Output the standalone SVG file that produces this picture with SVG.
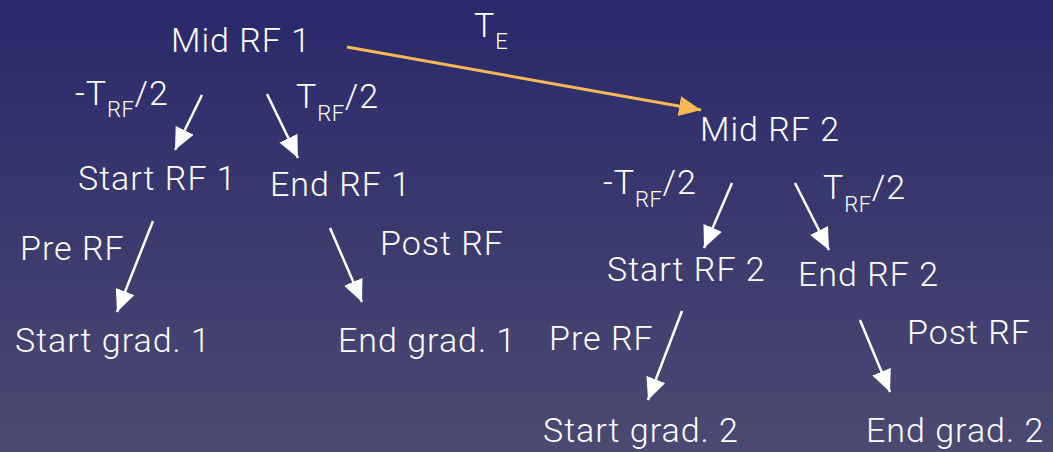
<svg xmlns="http://www.w3.org/2000/svg" width="1053" height="452" viewBox="0 0 1053 452">
<defs>
<linearGradient id="bg" x1="0" y1="0" x2="0" y2="1">
<stop offset="0" stop-color="#29296b"/>
<stop offset="1" stop-color="#4b4a72"/>
</linearGradient>
<marker id="aw" viewBox="0 0 22 20" refX="22" refY="10" markerWidth="22" markerHeight="20" markerUnits="userSpaceOnUse" orient="auto">
<path d="M0,0 L22,10 L0,20 z" fill="#ffffff"/>
</marker>
<marker id="ao" viewBox="0 0 22 20" refX="22" refY="10" markerWidth="22" markerHeight="20" markerUnits="userSpaceOnUse" orient="auto">
<path d="M0,0 L22,10 L0,20 z" fill="#f7b955"/>
</marker>
<style>
text{font-family:Roboto,"Liberation Sans",sans-serif;font-weight:300;font-size:34px;letter-spacing:1px;fill:#ffffff}
.sub{font-size:22px;letter-spacing:0.5px}
.w{stroke:#ffffff;stroke-width:2.5;fill:none;marker-end:url(#aw)}
.o{stroke:#f7b955;stroke-width:3;fill:none;marker-end:url(#ao)}
</style>
</defs>
<rect width="1053" height="452" fill="url(#bg)"/>
<g id="connectors">
<line class="o" x1="347" y1="47" x2="701" y2="110"/>
<line class="w" x1="202" y1="95" x2="175" y2="150"/>
<line class="w" x1="267" y1="94" x2="298" y2="158"/>
<line class="w" x1="732" y1="183" x2="704" y2="248"/>
<line class="w" x1="795" y1="183" x2="829" y2="250"/>
<line class="w" x1="153" y1="221" x2="117" y2="312"/>
<line class="w" x1="330" y1="228" x2="362" y2="302"/>
<line class="w" x1="682" y1="311" x2="648" y2="400"/>
<line class="w" x1="860" y1="320" x2="890" y2="392"/>
</g>
<g id="label-te"><text x="474" y="37">T<tspan class="sub" dy="12">E</tspan></text></g>
<g id="label-mtrf1"><text x="75" y="105">-T<tspan class="sub" dy="12">RF</tspan><tspan dy="-12">/2</tspan></text></g>
<g id="label-trf1"><text x="296" y="108">T<tspan class="sub" dy="13">RF</tspan><tspan dy="-13">/2</tspan></text></g>
<g id="label-mtrf2"><text x="603" y="194">-T<tspan class="sub" dy="13">RF</tspan><tspan dy="-13">/2</tspan></text></g>
<g id="label-trf2"><text x="823" y="199">T<tspan class="sub" dy="13">RF</tspan><tspan dy="-13">/2</tspan></text></g>
<g id="label-pre1"><text x="20" y="260">Pre RF</text></g>
<g id="label-post1"><text x="380" y="255">Post RF</text></g>
<g id="label-pre2"><text x="549" y="350">Pre RF</text></g>
<g id="label-post2"><text x="907" y="344">Post RF</text></g>
<g id="mid-rf-1"><text x="171" y="52">Mid RF 1</text></g>
<g id="mid-rf-2"><text x="700" y="141">Mid RF 2</text></g>
<g id="start-rf-1"><text x="78" y="190">Start RF 1</text></g>
<g id="end-rf-1"><text x="270" y="196">End RF 1</text></g>
<g id="start-rf-2"><text x="607" y="281">Start RF 2</text></g>
<g id="end-rf-2"><text x="798" y="286">End RF 2</text></g>
<g id="start-grad-1"><text x="15" y="352">Start grad. 1</text></g>
<g id="end-grad-1"><text x="338" y="352">End grad. 1</text></g>
<g id="start-grad-2"><text x="543" y="442">Start grad. 2</text></g>
<g id="end-grad-2"><text x="866" y="442">End grad. 2</text></g>
</svg>
